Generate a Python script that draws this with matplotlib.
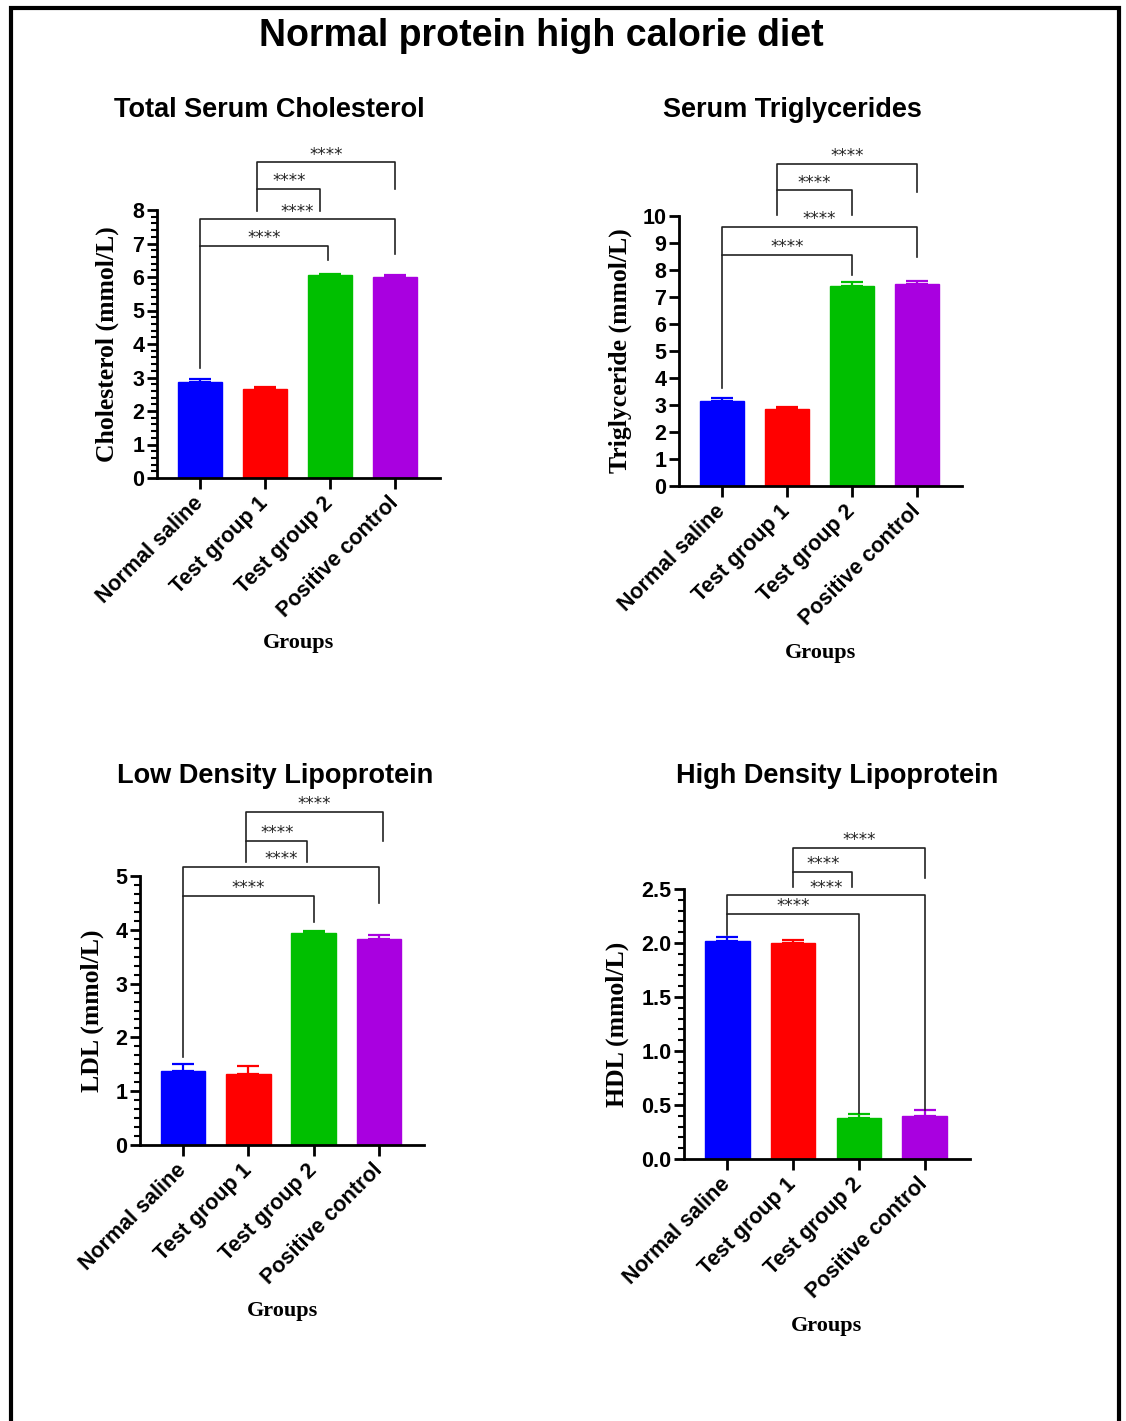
import matplotlib
matplotlib.use("Agg")
import matplotlib.pyplot as plt
from matplotlib.ticker import AutoMinorLocator, MultipleLocator, FormatStrFormatter
from matplotlib.patches import Rectangle
import numpy as np

groups = ["Normal saline", "Test group 1", "Test group 2", "Positive control"]
colors = ["#0000ff", "#ff0000", "#00bf00", "#a900e0"]

chol_mean = [2.87, 2.67, 6.05, 6.00]
chol_err = [0.08, 0.06, 0.05, 0.05]
tg_mean = [3.15, 2.85, 7.42, 7.48]
tg_err = [0.10, 0.07, 0.12, 0.13]
ldl_mean = [1.38, 1.32, 3.94, 3.83]
ldl_err = [0.12, 0.15, 0.03, 0.07]
hdl_mean = [2.02, 2.00, 0.38, 0.40]
hdl_err = [0.04, 0.03, 0.04, 0.05]

# significance brackets: (x left, x right, line height, left leg end, right leg end)
chol_br = [(0, 1.97, 6.93, 3.28, 6.5), (0, 3, 7.73, 6.93, 6.7),
           (0.88, 1.85, 8.63, 7.97, 7.97), (0.88, 3, 9.43, 8.63, 8.63)]
tg_br = [(0, 2, 8.56, 3.63, 7.8), (0, 3, 9.6, 8.56, 8.48),
         (0.85, 2, 10.96, 10.04, 10.04), (0.85, 3, 11.93, 10.96, 10.9)]
ldl_br = [(0, 2, 4.63, 1.64, 4.14), (0, 3, 5.17, 4.63, 4.5),
          (0.97, 1.9, 5.65, 5.26, 5.26), (0.97, 3.06, 6.19, 5.65, 5.65)]
hdl_br = [(0, 2, 2.27, 2.07, 0.43), (0, 3, 2.44, 2.27, 0.45),
          (1, 1.9, 2.66, 2.52, 2.52), (1, 3, 2.88, 2.66, 2.6)]

sans = "Liberation Sans"
serif = "Liberation Serif"

fig = plt.figure(figsize=(11.26, 14.21), dpi=100)
W, H = 1126, 1421


def make_axes(left, y0, right, ytop):
    return fig.add_axes([left / W, 1 - y0 / H, (right - left) / W, (y0 - ytop) / H])


def panel(ax, title, tx, ty, mean, err, ylim, major, minor_n, ylabel, ylab_x, brackets, fmt=None):
    x = np.arange(len(groups))
    ax.bar(x, mean, width=0.68, color=colors, edgecolor=colors, zorder=2)
    for i in range(len(groups)):
        ax.errorbar(x[i], mean[i], yerr=[[0], [err[i]]], fmt="none",
                    ecolor=colors[i], elinewidth=1.6, capsize=8, capthick=1.6, zorder=3)
    ax.set_xlim(-0.66, 3.69)
    ax.set_ylim(*ylim)
    ax.yaxis.set_major_locator(MultipleLocator(major))
    if fmt:
        ax.yaxis.set_major_formatter(FormatStrFormatter(fmt))
    if minor_n:
        ax.yaxis.set_minor_locator(AutoMinorLocator(minor_n))
    for s in ["top", "right"]:
        ax.spines[s].set_visible(False)
    for s in ["left", "bottom"]:
        ax.spines[s].set_linewidth(2)
    ax.tick_params(axis="both", which="major", width=2, length=7, direction="out")
    ax.tick_params(axis="y", which="minor", width=1.5, length=4)
    ax.tick_params(axis="x", length=8, pad=8)
    ax.set_xticks(x)
    ax.set_xticklabels(groups, rotation=45, ha="right", va="center", rotation_mode="anchor",
                       fontfamily=sans, fontweight="bold", fontsize=15.5)
    ax.tick_params(axis="y", pad=2)
    for lab in ax.get_yticklabels():
        lab.set_fontfamily(sans)
        lab.set_fontweight("bold")
        lab.set_fontsize(15.5)
    ax.set_ylabel(ylabel, fontfamily=serif, fontweight="bold", fontsize=18.5)
    ax.yaxis.set_label_coords(ylab_x, 0.5)
    ax.set_xlabel("Groups", fontfamily=serif, fontweight="bold", fontsize=16)
    ax.xaxis.set_label_coords(0.5, -0.58)
    fig.text(tx / W, 1 - ty / H, title, ha="center", va="center",
             fontfamily=sans, fontweight="bold", fontsize=19.5)
    off = (ylim[1] - ylim[0]) * 0.028
    for a, b, yl, ya, yb in brackets:
        ax.plot([a, a, b, b], [ya, yl, yl, yb], color="#222222", lw=1.2,
                clip_on=False, zorder=4)
        ax.text((a + b) / 2, yl + off, "****", ha="center", va="center",
                fontsize=12, color="#222222", clip_on=False)


ax1 = make_axes(157, 478, 440, 210)
panel(ax1, "Total Serum Cholesterol", 269, 110, chol_mean, chol_err, (0, 8), 1, 5,
      "Cholesterol (mmol/L)", -0.134, chol_br)

ax2 = make_axes(679, 486, 962, 216)
panel(ax2, "Serum Triglycerides", 792, 110, tg_mean, tg_err, (0, 10), 1, 0,
      "Triglyceride (mmol/L)", -0.166, tg_br)

ax3 = make_axes(140, 1145, 424, 876)
panel(ax3, "Low Density Lipoprotein", 275, 776, ldl_mean, ldl_err, (0, 5), 1, 6,
      "LDL (mmol/L)", -0.127, ldl_br)

ax4 = make_axes(684, 1159, 970, 889)
panel(ax4, "High Density Lipoprotein", 837, 776, hdl_mean, hdl_err, (0, 2.5), 0.5, 5,
      "HDL (mmol/L)", -0.192, hdl_br, fmt="%.1f")

fig.text(541 / W, 1 - 36 / H, "Normal protein high calorie diet", ha="center", va="center",
         fontfamily=sans, fontweight="bold", fontsize=27)

fig.patches.append(Rectangle((11 / W, -0.01), (1119 - 11) / W, 1.01 - 8 / H,
                             transform=fig.transFigure, fill=False,
                             edgecolor="black", linewidth=3))

fig.savefig("out.png", dpi=100)
